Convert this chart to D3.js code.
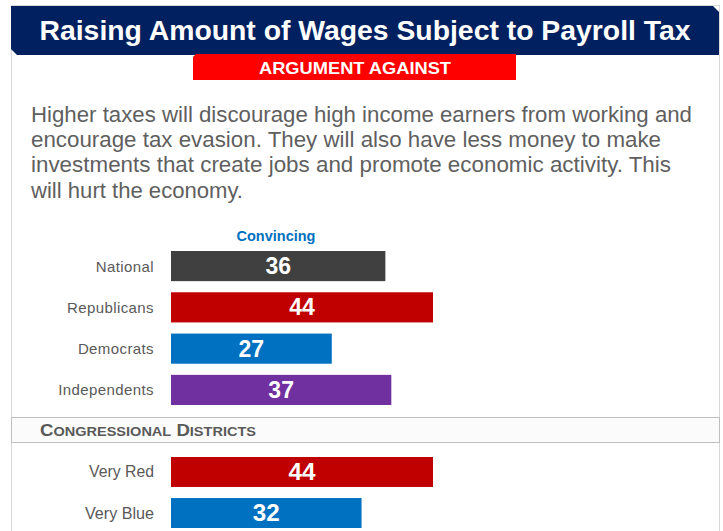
<!DOCTYPE html>
<html>
<head>
<meta charset="utf-8">
<script src="https://cdn.jsdelivr.net/npm/d3@7"></script>
<style>
  html, body { margin: 0; padding: 0; background: #fff; }
  svg { display: block; font-family: "Liberation Sans", Arial, sans-serif; }
</style>
</head>
<body>
<div id="chart"></div>
<script>
// data
const title = 'Raising Amount of Wages Subject to Payroll Tax';
const subtitle = 'ARGUMENT AGAINST';
const bodyLines = [
    'Higher taxes will discourage high income earners from working and',
    'encourage tax evasion. They will also have less money to make',
    'investments that create jobs and promote economic activity. This',
    'will hurt the economy.'
];
const seriesName = 'Convincing';
const groups = ['National', 'Republicans', 'Democrats', 'Independents'];
const groupValues = [36, 44, 27, 37];
const districtTitle = 'Congressional Districts';
const districts = ['Very Red', 'Very Blue'];
const districtValues = [44, 32];

const barColor = {
    'National': '#404040',
    'Republicans': '#C00000',
    'Democrats': '#0070C0',
    'Independents': '#7030A0',
    'Very Red': '#C00000',
    'Very Blue': '#0070C0'
};

const W = 723, H = 531;
const svg = d3.select('#chart').append('svg')
    .attr('width', W)
    .attr('height', H);

// card outline
svg.append('rect')
    .attr('x', 11.5).attr('y', 5.5)
    .attr('width', 708).attr('height', 560)
    .attr('fill', '#fff')
    .attr('stroke', '#d9d9d9');

// title banner with cut corners
svg.append('path')
    .attr('d', 'M11,6 L713,6 L719,12 L719,55 L17,55 L11,49 Z')
    .attr('fill', '#002060');
svg.append('text')
    .attr('x', 365).attr('y', 40)
    .attr('text-anchor', 'middle')
    .attr('fill', '#fff')
    .attr('font-weight', 'bold')
    .attr('font-size', 28)
    .attr('textLength', 651)
    .attr('lengthAdjust', 'spacingAndGlyphs')
    .text(title);

// red sub banner
svg.append('path')
    .attr('d', 'M196,54 L516,54 L516,80 L193,80 L193,57 Z')
    .attr('fill', '#FF0000');
svg.append('text')
    .attr('x', 355).attr('y', 74)
    .attr('text-anchor', 'middle')
    .attr('fill', '#fff')
    .attr('font-weight', 'bold')
    .attr('font-size', 17)
    .attr('textLength', 192)
    .attr('lengthAdjust', 'spacingAndGlyphs')
    .text(subtitle);

// argument text
const lineWidths = [661, 630, 640, 212];
svg.append('g').selectAll('text')
    .data(bodyLines)
    .join('text')
    .attr('x', 31)
    .attr('y', (d, i) => 122 + i * 25.2)
    .attr('fill', '#5f5f5f')
    .attr('font-size', 21.5)
    .attr('textLength', (d, i) => lineWidths[i])
    .attr('lengthAdjust', 'spacingAndGlyphs')
    .text(d => d);

// scales
const x = d3.scaleLinear().domain([0, 44]).range([171, 433]);

const y1 = d3.scaleBand().domain(groups).range([251, 405]).paddingInner(0.27).paddingOuter(0);
const y2 = d3.scaleBand().domain(districts).range([457, 528]).paddingInner(0.27).paddingOuter(0);

svg.append('text')
    .attr('x', 276).attr('y', 241)
    .attr('text-anchor', 'middle')
    .attr('fill', '#0070C0')
    .attr('font-weight', 'bold')
    .attr('font-size', 14.5)
    .text(seriesName);

// narrow rows: squeeze text to look like a condensed face
const narrowLabelWidth = { 'Very Red': 65, 'Very Blue': 69 };

function drawBars(names, values, y, narrow) {
    const rows = names.map((n, i) => ({ name: n, value: values[i] }));
    const g = svg.append('g');
    g.selectAll('rect')
        .data(rows)
        .join('rect')
        .attr('x', x(0))
        .attr('y', d => y(d.name))
        .attr('width', d => x(d.value) - x(0))
        .attr('height', y.bandwidth())
        .attr('fill', d => barColor[d.name]);

    const vals = g.selectAll('.val')
        .data(rows)
        .join('text')
        .attr('class', 'val')
        .attr('x', d => (x(0) + x(d.value)) / 2)
        .attr('y', d => y(d.name) + y.bandwidth() / 2 + 8)
        .attr('text-anchor', 'middle')
        .attr('fill', '#fff')
        .attr('font-weight', 'bold')
        .attr('font-size', 23)
        .text(d => d.value);

    const labs = g.selectAll('.lab')
        .data(rows)
        .join('text')
        .attr('class', 'lab')
        .attr('x', 154)
        .attr('y', d => y(d.name) + y.bandwidth() / 2 + 5.5)
        .attr('text-anchor', 'end')
        .attr('fill', '#595959')
        .attr('font-size', narrow ? 17 : 15)
        .attr('letter-spacing', narrow ? 0 : 0.4)
        .text(d => d.name);

    if (narrow) {
        vals.attr('textLength', 27).attr('lengthAdjust', 'spacingAndGlyphs');
        labs.attr('textLength', d => narrowLabelWidth[d.name]).attr('lengthAdjust', 'spacingAndGlyphs');
    }
}

drawBars(groups, groupValues, y1, false);

// congressional districts header
svg.append('rect')
    .attr('x', 11.5).attr('y', 417.5)
    .attr('width', 708).attr('height', 25)
    .attr('fill', '#fbfbfb')
    .attr('stroke', '#bfbfbf');
const hdr = svg.append('text')
    .attr('x', 40).attr('y', 436)
    .attr('fill', '#595959')
    .attr('font-weight', 'bold')
    .attr('font-size', 16)
    .attr('textLength', 216)
    .attr('lengthAdjust', 'spacingAndGlyphs');
districtTitle.split(' ').forEach((w, i) => {
    hdr.append('tspan').text((i ? ' ' : '') + w[0].toUpperCase());
    hdr.append('tspan').attr('font-size', 12.5).text(w.slice(1).toUpperCase());
});

drawBars(districts, districtValues, y2, true);
</script>
</body>
</html>
